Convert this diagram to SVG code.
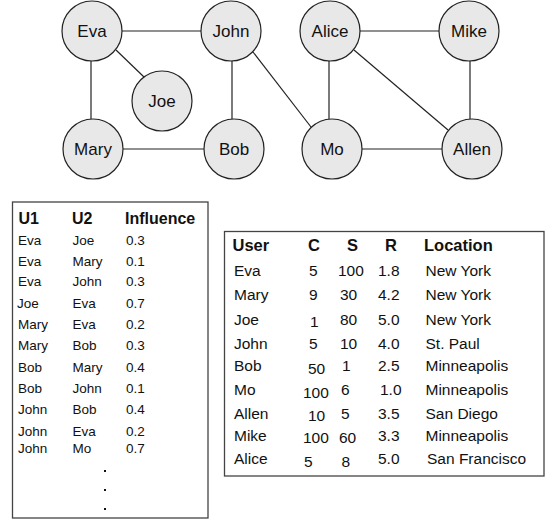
<svg xmlns="http://www.w3.org/2000/svg" width="548" height="520" viewBox="0 0 548 520">
<style>
.node circle{fill:#e8e8e8;stroke:#222;stroke-width:1.2}
.node text{font-family:"Liberation Sans",Arial,sans-serif;font-size:17px;fill:#111;text-anchor:middle}
.edges line{stroke:#222;stroke-width:1.2}
.box{fill:#fff;stroke:#444;stroke-width:1.3}
.t{font-family:"Liberation Sans",Arial,sans-serif;fill:#111}
.lh{font-size:16px;font-weight:bold}
.lr{font-size:13.5px}
.rh{font-size:16.5px;font-weight:bold}
.rr{font-size:15.5px}
.dot{fill:#111}
</style>
<rect width="548" height="520" fill="#fff"/>
<g id="connectors" class="edges">
<line x1="122" y1="31" x2="201" y2="31"/>
<line x1="91" y1="61" x2="91" y2="119"/>
<line x1="116" y1="50" x2="144" y2="77"/>
<line x1="232" y1="61" x2="232" y2="119"/>
<line x1="123" y1="149" x2="204" y2="149"/>
<line x1="253" y1="52" x2="311" y2="127"/>
<line x1="360" y1="31" x2="439" y2="31"/>
<line x1="329" y1="61" x2="329" y2="119"/>
<line x1="354" y1="50" x2="448" y2="130"/>
<line x1="470" y1="61" x2="470" y2="119"/>
<line x1="362" y1="149" x2="442" y2="149"/>
</g>
<g id="node-eva" class="node"><circle cx="92" cy="31" r="30"/><text x="92" y="37">Eva</text></g>
<g id="node-john" class="node"><circle cx="231" cy="31" r="30"/><text x="231" y="37">John</text></g>
<g id="node-joe" class="node"><circle cx="162" cy="101" r="30"/><text x="162" y="107">Joe</text></g>
<g id="node-mary" class="node"><circle cx="93" cy="149" r="30"/><text x="93" y="155">Mary</text></g>
<g id="node-bob" class="node"><circle cx="234" cy="149" r="30"/><text x="234" y="155">Bob</text></g>
<g id="node-alice" class="node"><circle cx="330" cy="31" r="30"/><text x="330" y="37">Alice</text></g>
<g id="node-mike" class="node"><circle cx="469" cy="31" r="30"/><text x="469" y="37">Mike</text></g>
<g id="node-mo" class="node"><circle cx="332" cy="149" r="30"/><text x="332" y="155">Mo</text></g>
<g id="node-allen" class="node"><circle cx="472" cy="149" r="30"/><text x="472" y="155">Allen</text></g>

<g id="influence-table">
<rect class="box" x="12.5" y="202" width="195.5" height="316"/>
<g class="t lh"><text x="18.5" y="224">U1</text><text x="72" y="224">U2</text><text x="125" y="224">Influence</text></g>
<g class="t lr">
<text x="18" y="245">Eva</text><text x="72.5" y="245">Joe</text><text x="126" y="245">0.3</text>
<text x="18" y="266">Eva</text><text x="72.5" y="266">Mary</text><text x="126" y="266">0.1</text>
<text x="18" y="286">Eva</text><text x="72.5" y="286">John</text><text x="126" y="286">0.3</text>
<text x="17" y="308">Joe</text><text x="72.5" y="308">Eva</text><text x="126" y="308">0.7</text>
<text x="18" y="329">Mary</text><text x="72.5" y="329">Eva</text><text x="126" y="329">0.2</text>
<text x="18" y="349.5">Mary</text><text x="72.5" y="349.5">Bob</text><text x="126" y="349.5">0.3</text>
<text x="18" y="372">Bob</text><text x="72.5" y="372">Mary</text><text x="126" y="372">0.4</text>
<text x="18" y="393">Bob</text><text x="72.5" y="393">John</text><text x="126" y="393">0.1</text>
<text x="18" y="413.5">John</text><text x="72.5" y="413.5">Bob</text><text x="126" y="413.5">0.4</text>
<text x="18" y="436">John</text><text x="72.5" y="436">Eva</text><text x="126" y="436">0.2</text>
<text x="18" y="452.5">John</text><text x="72.5" y="452.5">Mo</text><text x="126" y="452.5">0.7</text>
</g>
<rect class="dot" x="104" y="470" width="2" height="2"/>
<rect class="dot" x="104" y="489" width="2" height="2"/>
<rect class="dot" x="104" y="508" width="2" height="2"/>
</g>

<g id="user-table">
<rect class="box" x="224.5" y="231.5" width="319.5" height="244.5"/>
<g class="t rh"><text x="232.5" y="250.5">User</text><text x="314" y="250.5" text-anchor="middle">C</text><text x="352.5" y="250.5" text-anchor="middle">S</text><text x="391" y="250.5" text-anchor="middle">R</text><text x="424" y="250.5">Location</text></g>
<g class="t rr">
<text x="234" y="276">Eva</text><text x="309" y="276">5</text><text x="338" y="276">100</text><text x="378" y="276">1.8</text><text x="425.5" y="276">New York</text>
<text x="234" y="300">Mary</text><text x="309" y="300">9</text><text x="340" y="300">30</text><text x="378" y="300">4.2</text><text x="425.5" y="300">New York</text>
<text x="234" y="324.5">Joe</text><text x="310" y="327">1</text><text x="340" y="324.5">80</text><text x="378" y="324.5">5.0</text><text x="425.5" y="324.5">New York</text>
<text x="234" y="349">John</text><text x="309" y="349">5</text><text x="340" y="349">10</text><text x="378" y="349">4.0</text><text x="425.5" y="349">St. Paul</text>
<text x="234" y="371">Bob</text><text x="308" y="373.5">50</text><text x="342" y="371">1</text><text x="378" y="371">2.5</text><text x="425.5" y="371">Minneapolis</text>
<text x="234" y="395">Mo</text><text x="303" y="397.5">100</text><text x="341" y="395">6</text><text x="380" y="395">1.0</text><text x="425.5" y="395">Minneapolis</text>
<text x="234" y="418.5">Allen</text><text x="308" y="421">10</text><text x="341" y="418.5">5</text><text x="378" y="418.5">3.5</text><text x="425.5" y="418.5">San Diego</text>
<text x="234" y="441">Mike</text><text x="303" y="443">100</text><text x="339" y="443">60</text><text x="378" y="441">3.3</text><text x="425.5" y="441">Minneapolis</text>
<text x="234" y="464">Alice</text><text x="304" y="466.5">5</text><text x="341.5" y="466.5">8</text><text x="378" y="464">5.0</text><text x="427" y="464">San Francisco</text>
</g>
</g>
</svg>
